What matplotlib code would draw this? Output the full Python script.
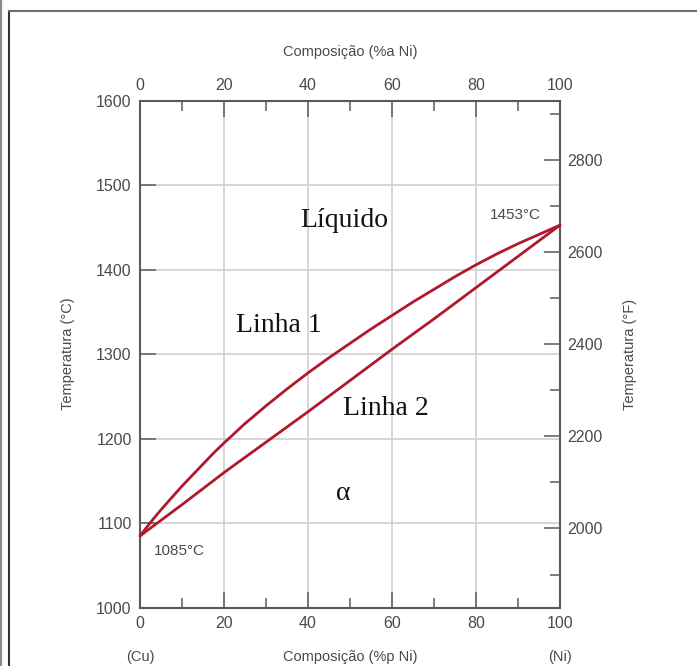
import matplotlib
matplotlib.use('Agg')
import matplotlib.pyplot as plt
from matplotlib.lines import Line2D

# composition (wt% Ni) and temperatures (deg C)
liq_ni = [0, 2.5, 5, 7.5, 10, 12.5, 15, 17.5, 20, 25, 30, 35, 40, 45, 50,
          55, 60, 65, 70, 75, 80, 85, 90, 95, 100]
liq_t = [1085, 1101, 1116, 1130, 1144, 1157, 1170, 1183, 1195, 1218, 1239, 1259, 1278, 1296, 1313,
         1330, 1346, 1362, 1377, 1392, 1406, 1419, 1431, 1442, 1453]
sol_ni = [0, 10, 20, 30, 40, 50, 60, 70, 80, 90, 100]
sol_t = [1085, 1122, 1160, 1196, 1232, 1269, 1306, 1342, 1379, 1416, 1453]

x_ticks = [0, 20, 40, 60, 80, 100]
x_minor = [10, 30, 50, 70, 90]
c_ticks = [1000, 1100, 1200, 1300, 1400, 1500, 1600]
f_ticks = [2000, 2200, 2400, 2600, 2800]
f_minor = [1900, 2100, 2300, 2500, 2700, 2900]

W, H = 697, 666
plt.rcParams['font.family'] = ['Liberation Sans', 'DejaVu Sans']
fig = plt.figure(figsize=(W / 100, H / 100), dpi=100)

def fx(px):
    return px / W

def fy(py):
    return 1 - py / H

ax = fig.add_axes([fx(140), fy(607.7), 420 / W, (607.7 - 101) / H])
ax.set_xlim(0, 100)
ax.set_ylim(1000, 1600)

tick_col = '#666666'
text_col = '#4a4a4a'
for s in ax.spines.values():
    s.set_color('#5a5a5a')
    s.set_linewidth(1.5)

ax.set_xticks(x_ticks)
ax.set_xticks(x_minor, minor=True)
ax.set_yticks(c_ticks)
ax.tick_params(axis='both', which='major', direction='in', length=11.5, width=1.2,
               color=tick_col, labelsize=11.5, labelcolor=text_col, pad=6)
ax.tick_params(axis='x', which='both', top=True, labeltop=True)
ax.tick_params(axis='x', which='minor', direction='in', length=7, width=1.2, color=tick_col)
ax.tick_params(axis='y', right=False)
ax.grid(True, which='major', color='#cfcfcf', linewidth=1.2)
ax.set_axisbelow(True)

ax2 = ax.twinx()
ax2.set_ylim(1828, 2928)
ax2.set_yticks(f_ticks)
ax2.set_yticks(f_minor, minor=True)
ax2.tick_params(axis='y', which='major', direction='in', length=11.5, width=1.2,
                color=tick_col, labelsize=11.5, labelcolor=text_col, pad=5)
ax2.tick_params(axis='y', which='minor', direction='in', length=7, width=1.2, color=tick_col)
for s in ax2.spines.values():
    s.set_visible(False)

red = '#b0182c'
ax.plot(liq_ni, liq_t, color=red, lw=2.0, solid_capstyle='round', clip_on=False, zorder=3)
ax.plot(sol_ni, sol_t, color=red, lw=2.0, solid_capstyle='round', clip_on=False, zorder=3)

serif = ['Liberation Serif', 'DejaVu Serif']
ax.text(38.1, 1451, 'Líquido', family=serif, fontsize=20, color='#111111')
ax.text(22.8, 1327, 'Linha 1', family=serif, fontsize=20, color='#111111')
ax.text(48.3, 1228, 'Linha 2', family=serif, fontsize=20, color='#111111')
ax.text(46.7, 1127, 'α', family=serif, fontsize=20, color='#111111')
ax.text(95.5, 1460, '1453°C', fontsize=11, color=text_col, ha='right')
ax.text(3.2, 1062, '1085°C', fontsize=11, color=text_col)

fig.text(fx(350), fy(52), 'Composição (%a Ni)', fontsize=10.5, color=text_col, ha='center', va='center')
fig.text(fx(350), fy(657), 'Composição (%p Ni)', fontsize=10.5, color=text_col, ha='center', va='center')
fig.text(fx(140), fy(657), '(Cu)', fontsize=10.5, color=text_col, ha='center', va='center')
fig.text(fx(560), fy(657), '(Ni)', fontsize=10.5, color=text_col, ha='center', va='center')
fig.text(fx(68), fy(354), 'Temperatura (°C)', fontsize=10.5, color=text_col, rotation=90, ha='center', va='center')
fig.text(fx(630), fy(354), 'Temperatura (°F)', fontsize=10.5, color=text_col, rotation=90, ha='center', va='center')

# page frame around the figure
fig.add_artist(Line2D([fx(1), fx(1)], [0, 1], color='#8a8a8a', lw=1.6))
fig.add_artist(Line2D([fx(8.5), fx(8.5)], [0, fy(10.5)], color='#333333', lw=1.5))
fig.add_artist(Line2D([fx(8.5), 1], [fy(10.5), fy(10.5)], color='#6e6e6e', lw=1.5))

fig.savefig('out.png', dpi=100)
